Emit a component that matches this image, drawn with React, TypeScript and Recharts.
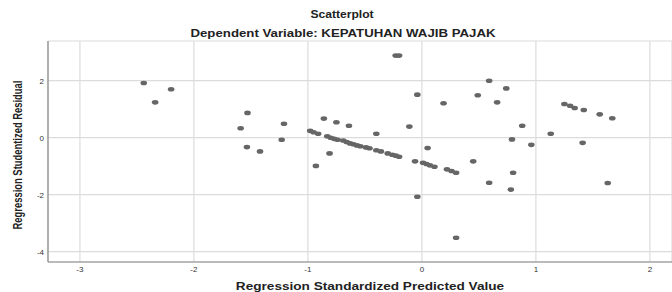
import { ScatterChart, Scatter, XAxis, YAxis, CartesianGrid } from 'recharts';

// standardized predicted values (x) and studentized residuals (y)
const predicted = [
  -2.44, -2.34, -2.2, -1.53, -1.59, -1.535, -1.42, -1.23, -1.21, -0.86,
  -0.93, -0.81, -0.75, -0.64, -0.4, -0.23, -0.2, -0.11, -0.04, 0.19,
  0.05, -0.06, -0.04, 0.3,
  -0.98, -0.95, -0.91, -0.83, -0.8, -0.77, -0.74, -0.69, -0.66, -0.63,
  -0.6, -0.57, -0.54, -0.49, -0.46, -0.4, -0.36, -0.3, -0.26, -0.23,
  -0.2, 0.01, 0.04, 0.07, 0.11, 0.22, 0.26, 0.3,
  0.45, 0.49, 0.59, 0.59, 0.66, 0.74, 0.79, 0.8, 0.78, 0.88,
  0.96, 1.13, 1.25, 1.3, 1.34, 1.42, 1.41, 1.56, 1.67, 1.63,
];
const residual = [
  1.92, 1.24, 1.7, 0.87, 0.33, -0.33, -0.48, -0.07, 0.49, 0.67,
  -0.99, -0.55, 0.54, 0.42, 0.14, 2.88, 2.88, 0.39, 1.51, 1.21,
  -0.36, -0.83, -2.07, -3.51,
  0.24, 0.19, 0.14, 0.05, 0.0, -0.04, -0.07, -0.1, -0.15, -0.2,
  -0.23, -0.27, -0.3, -0.34, -0.37, -0.44, -0.48, -0.55, -0.6, -0.63,
  -0.67, -0.88, -0.92, -0.97, -1.02, -1.11, -1.17, -1.23,
  -0.83, 1.49, 2.0, -1.58, 1.24, 1.73, -0.06, -1.23, -1.82, 0.42,
  -0.25, 0.14, 1.18, 1.12, 1.04, 0.97, -0.18, 0.82, 0.68, -1.59,
];
const xTicks = [-3, -2, -1, 0, 1, 2];
const yTicks = [-4, -2, 0, 2];

const points = predicted.map((x, i) => ({ x, y: residual[i] }));

const font = '"Liberation Sans", Arial, sans-serif';

const Dot = (props: any) => (
  <ellipse cx={props.cx} cy={props.cy} rx={3.3} ry={2.3} fill="#666" />
);

// the original picture is stretched sideways, so horizontal text is widened
const wideText = (center: number, top: number, size: number, sx: number) => ({
  position: 'absolute' as const,
  top,
  left: center - 200,
  width: 400,
  textAlign: 'center' as const,
  fontSize: size,
  fontWeight: 'bold' as const,
  transform: `scaleX(${sx})`,
  whiteSpace: 'nowrap' as const,
});

export default function App() {
  return (
    <div style={{ position: 'absolute', left: 0, top: 0, width: 672, height: 292, overflow: 'hidden', fontFamily: font, color: '#222' }}>
      <div style={wideText(342, 9, 10, 1.21)}>Scatterplot</div>
      <div style={wideText(342.5, 27, 10.5, 1.26)}>Dependent Variable: KEPATUHAN WAJIB PAJAK</div>
      <div
        style={{
          position: 'absolute', left: 18, top: 155, width: 200, marginLeft: -100, marginTop: -6, lineHeight: '12px',
          textAlign: 'center', fontSize: 10, fontWeight: 'bold', transform: 'rotate(-90deg) scale(0.94, 1.25)',
          whiteSpace: 'nowrap',
        }}
      >
        Regression Studentized Residual
      </div>
      <div style={wideText(370, 281, 10, 1.36)}>Regression Standardized Predicted Value</div>
      <ScatterChart width={672} height={292} margin={{ top: 41, right: 0, bottom: 0, left: 0 }}>
        <CartesianGrid stroke="#dcdcdc" strokeWidth={1.2} />
        <XAxis
          type="number"
          dataKey="x"
          domain={[-3.28, 2.194]}
          ticks={xTicks}
          allowDataOverflow
          height={30}
          tickLine={false}
          tickSize={0}
          tickMargin={4}
          axisLine={{ stroke: '#888', strokeWidth: 1.2 }}
          tick={{ fontSize: 8, fill: '#333', fontFamily: font }}
        />
        <YAxis
          type="number"
          dataKey="y"
          domain={[-4.361, 3.393]}
          ticks={yTicks}
          allowDataOverflow
          width={48}
          tickLine={false}
          tickSize={0}
          tickMargin={4}
          axisLine={{ stroke: '#888', strokeWidth: 1.2 }}
          tick={{ fontSize: 8, fill: '#333', fontFamily: font }}
        />
        <Scatter data={points} shape={Dot} isAnimationActive={false} />
      </ScatterChart>
    </div>
  );
}
